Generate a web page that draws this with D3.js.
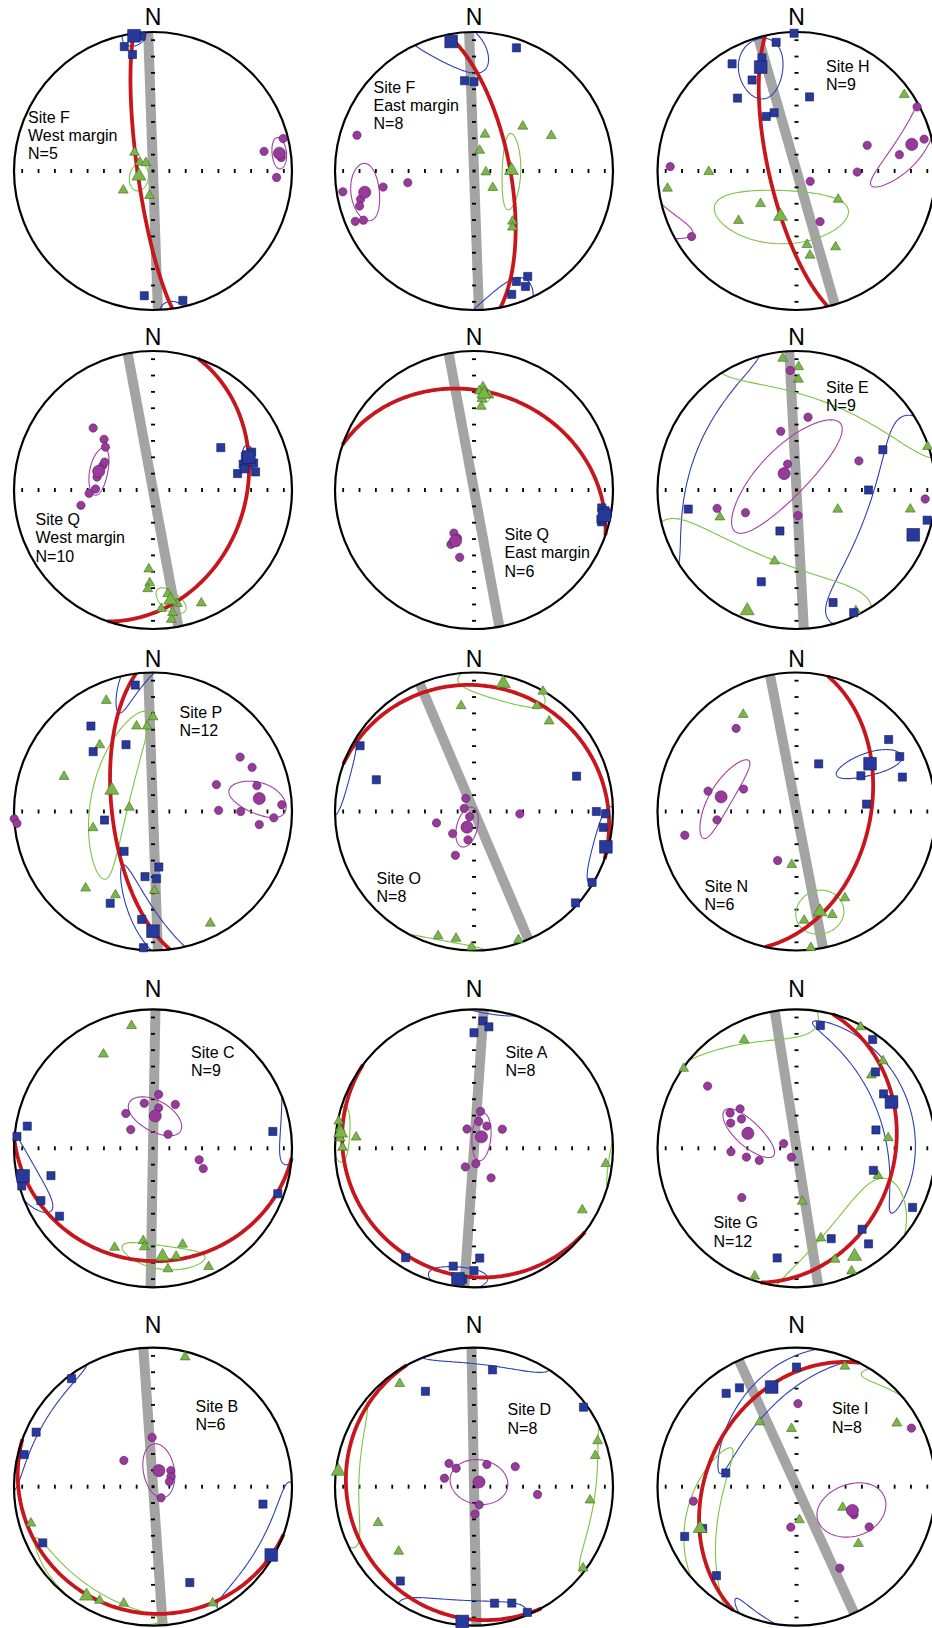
<!DOCTYPE html>
<html>
<head>
<meta charset="utf-8">
<script src="https://cdn.jsdelivr.net/npm/d3@7"></script>
<style>
  body { margin: 0; background: #fff; }
  text { font-family: "Liberation Sans", Arial, Helvetica, sans-serif; fill: #000; }
</style>
</head>
<body>
<svg id="chart" width="932" height="1628"></svg>
<script>
// ---------------------------------------------------------------
// AMS principal axes per site, lower-hemisphere equal-area nets.
// Every direction is [trend, plunge] in degrees.
// Site order: F-W, F-E, H, Q-W, Q-E, E, P, O, N, C, A, G, B, D, I
// ---------------------------------------------------------------
const siteLabels = [
  ["Site F", "West margin", "N=5"],
  ["Site F", "East margin", "N=8"],
  ["Site H", "N=9"],
  ["Site Q", "West margin", "N=10"],
  ["Site Q", "East margin", "N=6"],
  ["Site E", "N=9"],
  ["Site P", "N=12"],
  ["Site O", "N=8"],
  ["Site N", "N=6"],
  ["Site C", "N=9"],
  ["Site A", "N=8"],
  ["Site G", "N=12"],
  ["Site B", "N=6"],
  ["Site D", "N=8"],
  ["Site I", "N=8"]
];

// strike of the (vertical) dyke plane
const dykeStrike = [358, 358, 344, 349.5, 349.5, 357, 358, 337, 349, 1, 4, 351, 356, 359, 335.5];

// magnetic foliation plane: [dip direction, dip]; Site E has none
const foliation = [
  [262, 81], [79, 69], [257, 74], [109, 34], [19, 30], null, [263, 66], [20, 10.5],
  [103, 46], [184, 20], [217, 10], [105, 30], [200, 10], [241, 10], [297, 36]
];

// K1 (maximum) specimen axes
const kmaxAxes = [
  [[347, 9], [350, 16], [184, 11], [167, 5], [355, 3]],
  [[19, 7], [354, 35], [0, 36], [153, 16], [159, 16], [156, 10], [163, 8]],
  [[359, 1], [351, 7], [329, 11], [343, 16], [334, 28], [321, 33], [10, 45], [331, 53], [339, 53]],
  [[58, 42], [74, 33], [75, 26], [79, 38], [80, 26], [69, 25], [77, 33], [72, 28], [70, 30]],
  [[98, 8], [104, 6], [100, 3], [103, 7], [99, 5]],
  [[65, 32], [90, 47], [260, 22], [202, 64], [103, 4], [201, 30], [162, 16], [155, 3]],
  [[352, 9], [324, 25], [338, 47], [315, 39], [260, 61], [216, 61], [174, 57], [187, 51], [177, 50], [205, 28], [186, 23], [184, 2]],
  [[300, 6], [288, 27], [71, 23], [90, 13], [91, 6], [97, 7], [121, 1], [132, 2]],
  [[52, 17], [25, 59], [62, 17], [61, 46], [72, 21], [84, 48]],
  [[275, 2], [280, 9], [259, 3], [254, 2], [255, 25], [245, 12], [234, 18], [82, 14], [110, 5]],
  [[4, 9], [7, 13], [360, 18], [212, 8], [190, 15], [180, 13], [177, 22], [185, 6]],
  [[11, 11], [35, 5], [46, 22], [58, 27], [65, 24], [77, 41], [106, 42], [117, 7], [141, 26], [159, 31], [143, 15], [190, 21]],
  [[323, 3], [295, 8], [284, 5], [243, 12], [99, 21], [159, 27]],
  [[9, 16], [333, 24], [54, 3], [218, 15], [170, 16], [162, 13], [157, 2]],
  [[0, 15], [323, 17], [330, 19], [281, 47], [246, 27], [246, 13], [222, 15]]
];

// K2 (intermediate) specimen axes
const kintAxes = [
  [[314, 75], [301, 81], [316, 84], [236, 69], [188, 75]],
  [[48, 51], [66, 39], [17, 68], [16, 78], [99, 83], [133, 75], [143, 52], [146, 49]],
  [[55, 6], [269, 37], [262, 7], [227, 61], [229, 44], [125, 60], [172, 45], [153, 38], [171, 38]],
  [[183, 42], [182, 33], [183, 29], [168, 17], [157, 12], [171, 11], [172, 6], [172, 25], [176, 15]],
  [[5, 27], [5, 40], [9, 32], [5, 35], [3, 30]],
  [[354, 6], [1, 13], [1, 22], [72, 1], [100, 18], [116, 63], [250, 41], [197, 45], [154, 3]],
  [[337, 15], [0, 33], [349, 38], [356, 39], [321, 39], [291, 32], [278, 76], [254, 53], [221, 27], [204, 34], [179, 42], [153, 10]],
  [[353, 25], [30, 1], [31, 13], [40, 17], [196, 7], [188, 8], [181, 2], [161, 2]],
  [[331, 22], [185, 58], [151, 29], [161, 22], [176, 22], [174, 1]],
  [[350, 12], [332, 25], [201, 24], [186, 33], [185, 29], [163, 28], [168, 21], [173, 13], [155, 6]],
  [[281, 1], [274, 4], [275, 16], [270, 6], [97, 5], [120, 11], [278, 3]],
  [[334, 15], [305, 1], [28, 2], [45, 13], [46, 26], [84, 34], [109, 38], [174, 58], [165, 33], [161, 16], [156, 3], [198, 3]],
  [[14, 5], [253, 9], [205, 10], [194, 14], [153, 6]],
  [[324, 10], [249, 27], [229, 29], [70, 6], [76, 11], [97, 17], [127, 2]],
  [[22, 8], [330, 46], [355, 56], [58, 16], [115, 60], [175, 70], [133, 39]]
];

// K3 (minimum) specimen axes
const kminAxes = [
  [[76, 4], [80, 20], [93, 12], [84, 8]],
  [[287, 13], [261, 5], [260, 34], [260, 50], [256, 17], [253, 15], [247, 8], [246, 14]],
  [[62, 2], [70, 45], [81, 26], [76, 6], [91, 54], [272, 10], [127, 80], [155, 57], [238, 12]],
  [[316, 38], [316, 48], [312, 52], [296, 57], [283, 56], [271, 56], [267, 52], [258, 46], [300, 57]],
  [[205, 62], [192, 49], [202, 57], [199, 60], [203, 55]],
  [[357, 15], [9, 46], [345, 54], [341, 74], [65, 49], [257, 41], [246, 57], [177, 75], [94, 8]],
  [[58, 27], [66, 23], [67, 49], [76, 24], [87, 8], [89, 51], [90, 37], [93, 14], [97, 24], [267, 0], [265, 2]],
  [[328, 81], [287, 84], [220, 86], [253, 67], [224, 72], [192, 73], [203, 62], [93, 63]],
  [[324, 27], [283, 35], [293, 56], [264, 42], [258, 19], [201, 59]],
  [[6, 58], [349, 63], [27, 61], [8, 66], [322, 64], [310, 73], [47, 78], [104, 62], [112, 58]],
  [[10, 68], [10, 74], [30, 75], [56, 70], [340, 78], [173, 81], [205, 78], [150, 70]],
  [[305, 23], [298, 45], [305, 49], [298, 53], [291, 48], [289, 60], [267, 51], [260, 60], [252, 67], [290, 82], [210, 84], [228, 46]],
  [[359, 61], [312, 67], [48, 76], [61, 78], [73, 80], [144, 82]],
  [[313, 70], [316, 75], [30, 75], [64, 63], [286, 72], [97, 52], [164, 79], [178, 74]],
  [[1, 40], [63, 8], [262, 26], [119, 40], [188, 66], [152, 34], [116, 52]]
];

// site mean axes
const kmaxMean = [[352, 2], [350, 6], [341, 22], [71, 28], [101, 5], [111, 11], [180, 15], [105, 2],
                  [57, 37], [258, 5], [187, 6], [64, 25], [120, 2], [185, 3], [346, 27]];
const kintMean = [[246, 81], [91, 68], [199, 61], [171, 20], [6, 32], [202, 6], [296, 63], [13, 7],
                  [167, 26], [175, 22], [276, 4], [152, 12], [211, 8], [276, 2], [246, 25]];
const kminMean = [[82, 9], [259, 21], [77, 16], [289, 56], [200, 58], [323, 78], [83, 24], [204, 80],
                  [281, 44], [4, 71], [33, 82], [287, 60], [20, 80], [47, 86], [113, 54]];

// 95% confidence cones: [major semi-angle, minor semi-angle, azimuth of major axis]
const kmaxCone = [[8, 5, 0], [27, 12, 142], [21, 11, 350], [6, 4, 0], [4, 3, 0], [55, 35, 20], [45, 7, 336], [17, 10, 15],
                  [22, 6, 70], [22, 10, 134], [13, 9, 90], [56, 11, 160], [32, 12, 30], [28, 16, 90], [55, 9, 40]];
const kintCone = [[8, 5.5, 10], [22, 5.5, 2], [39, 16, 90], [11, 5, 145], [5, 3, 0], [55, 40, 112], [51, 11.5, 13], [20, 12, 110],
                  [15, 12, 170], [21, 8, 105], [12, 7, 0], [45, 24, 23], [35, 8, 125], [33, 16, 0], [48, 10, 15]];
const kminCone = [[7, 5.5, 0], [14, 10, 0], [35, 8, 47], [13.5, 5.5, 10], null, [45, 14, 44], [20, 8, 100], [12, 6, 15],
                  [25, 7, 34], [17, 9, 120], [14, 5.5, 5], [20, 7, 131], [16, 9, 170], [17, 13, 100], [21, 15, 80]];

// ---------------------------------------------------------------
// layout
// ---------------------------------------------------------------
const R = 139;
const colX = [153, 474, 796.5];
const rowY = [171, 490, 811.5, 1148.3, 1486.7];
const northBaseline = [25, 345, 667, 997, 1333];
const labelOffset = [
  [-125, -48.5], [-100.5, -78.5], [29.5, -99.5],
  [-117.5, 35], [30.5, 50], [29.5, -97.5],
  [26.5, -93.5], [-97.5, 72.5], [-92, 80],
  [38, -90.5], [31.5, -90.5], [-83, 80],
  [42.5, -75], [33.5, -71.5], [35.5, -72.5]
];
const lineHeight = 18.3;
const tickStep = R / 8.5;

const colours = {
  kmax: { fill: "#27399b", stroke: "#141d5c", cone: "#2e40b4" },
  kint: { fill: "#7bb64a", stroke: "#3c6a1f", cone: "#7cc443" },
  kmin: { fill: "#983a9b", stroke: "#561d58", cone: "#a33fa6" },
  plane: "#c8161d",
  dyke: "#a4a4a4"
};

// ---------------------------------------------------------------
// spherical helpers (x east, y north, z down)
// ---------------------------------------------------------------
const rad = Math.PI / 180;
const toVec = ([t, p]) => [Math.cos(p * rad) * Math.sin(t * rad), Math.cos(p * rad) * Math.cos(t * rad), Math.sin(p * rad)];
// projection longitude/latitude for a direction: centre of the net is the downward vertical
const toLonLat = ([t, p]) => [180 - t, p];
const vecToLonLat = v => {
  const n = Math.hypot(v[0], v[1], v[2]);
  return toLonLat([Math.atan2(v[0], v[1]) / rad, Math.asin(v[2] / n) / rad]);
};

// elliptical cone about a mean axis, plus its antipodal trace
function coneLines(mean, cone) {
  const [T, P] = mean, [a, b, az] = cone;
  const m = toVec(mean);
  const sT = Math.sin(T * rad), cT = Math.cos(T * rad), sP = Math.sin(P * rad), cP = Math.cos(P * rad);
  const u = [sP * sT, sP * cT, -cP];   // towards the primitive
  const w = [cT, -sT, 0];              // clockwise
  const d = (az - T) * rad;
  const e1 = u.map((x, i) => Math.cos(d) * x + Math.sin(d) * w[i]);
  const e2 = u.map((x, i) => -Math.sin(d) * x + Math.cos(d) * w[i]);
  const ta = Math.tan(a * rad), tb = Math.tan(b * rad);
  const ring = d3.range(0, 362, 2).map(th => {
    const c = Math.cos(th * rad), s = Math.sin(th * rad);
    return m.map((x, i) => x + ta * c * e1[i] + tb * s * e2[i]);
  });
  return [ring.map(vecToLonLat), ring.map(v => vecToLonLat(v.map(x => -x)))];
}

// great circle of a plane given as [dip direction, dip]
function planeLine([dd, dip]) {
  const s = toVec([dd - 90, 0]), dv = toVec([dd, dip]);
  return d3.range(0, 180.01, 1).map(th =>
    vecToLonLat(s.map((x, i) => Math.cos(th * rad) * x + Math.sin(th * rad) * dv[i])));
}

// ---------------------------------------------------------------
// drawing
// ---------------------------------------------------------------
const svg = d3.select("#chart");
svg.append("rect").attr("width", 932).attr("height", 1628).attr("fill", "#fff");
const defs = svg.append("defs");

const symbolSquare = d3.symbol().type(d3.symbolSquare);
const symbolTriangle = d3.symbol().type(d3.symbolTriangle);
const symbolCircle = d3.symbol().type(d3.symbolCircle);

siteLabels.forEach((label, k) => {
  const cx = colX[k % 3], cy = rowY[Math.floor(k / 3)];
  const proj = d3.geoAzimuthalEqualArea()
    .rotate([0, -90])
    .scale(R / Math.SQRT2)
    .translate([cx, cy])
    .clipAngle(90)
    .precision(0.1);
  const path = d3.geoPath(proj);
  const at = d => proj(toLonLat(d));

  const g = svg.append("g").attr("class", "net");

  defs.append("clipPath").attr("id", "clip" + k)
    .append("circle").attr("cx", cx).attr("cy", cy).attr("r", R);

  // north label
  g.append("text")
    .attr("x", cx).attr("y", northBaseline[Math.floor(k / 3)])
    .attr("text-anchor", "middle")
    .attr("font-size", 23)
    .text("N");

  // dyke plane (vertical, so a straight diameter)
  const p0 = at([dykeStrike[k], 0]), p1 = at([dykeStrike[k] + 180, 0]);
  g.append("line")
    .attr("clip-path", `url(#clip${k})`)
    .attr("x1", p0[0]).attr("y1", p0[1]).attr("x2", p1[0]).attr("y2", p1[1])
    .attr("stroke", colours.dyke).attr("stroke-width", 10);

  // E-W and N-S graduations
  const steps = d3.range(-8, 9).filter(i => i !== 0);
  g.selectAll(null).data(steps).join("rect")
    .attr("x", i => cx + i * tickStep - 0.9).attr("y", cy - 2)
    .attr("width", 1.8).attr("height", 4).attr("fill", "#000");
  g.selectAll(null).data(steps).join("rect")
    .attr("x", cx - 2).attr("y", i => cy + i * tickStep - 0.9)
    .attr("width", 4).attr("height", 1.8).attr("fill", "#000");
  g.append("rect").attr("x", cx - 1.5).attr("y", cy - 1.5).attr("width", 3).attr("height", 3).attr("fill", "#000");

  // confidence cones
  [[kmaxMean, kmaxCone, colours.kmax.cone],
   [kintMean, kintCone, colours.kint.cone],
   [kminMean, kminCone, colours.kmin.cone]].forEach(([means, cones, col]) => {
    if (!cones[k]) return;
    g.append("path")
      .datum({ type: "MultiLineString", coordinates: coneLines(means[k], cones[k]) })
      .attr("d", path)
      .attr("fill", "none").attr("stroke", col).attr("stroke-width", 1.1);
  });

  // magnetic foliation
  if (foliation[k]) {
    g.append("path")
      .datum({ type: "LineString", coordinates: planeLine(foliation[k]) })
      .attr("d", path)
      .attr("fill", "none").attr("stroke", colours.plane).attr("stroke-width", 3.8);
  }

  // primitive circle
  g.append("circle").attr("cx", cx).attr("cy", cy).attr("r", R)
    .attr("fill", "none").attr("stroke", "#000").attr("stroke-width", 2.2);

  // specimen axes, then site means (larger)
  const layers = [
    [kintAxes[k], symbolTriangle, colours.kint, 42, 0.8],
    [kmaxAxes[k], symbolSquare, colours.kmax, 66, 0],
    [kminAxes[k], symbolCircle, colours.kmin, 54, 0],
    [[kintMean[k]], symbolTriangle, colours.kint, 84, 1.2],
    [[kmaxMean[k]], symbolSquare, colours.kmax, 160, 0],
    [[kminMean[k]], symbolCircle, colours.kmin, 115, 0]
  ];
  layers.forEach(([data, sym, col, size, dy]) => {
    g.selectAll(null).data(data).join("path")
      .attr("transform", d => { const p = at(d); return `translate(${p[0]},${p[1] - dy})`; })
      .attr("d", sym.size(size)())
      .attr("fill", col.fill).attr("stroke", col.stroke).attr("stroke-width", 0.6);
  });

  // site caption
  const [ox, oy] = labelOffset[k];
  const t = g.append("text").attr("font-size", 16);
  label.forEach((line, j) => {
    t.append("tspan").attr("x", cx + ox).attr("y", cy + oy + j * lineHeight).text(line);
  });
});
</script>
</body>
</html>
